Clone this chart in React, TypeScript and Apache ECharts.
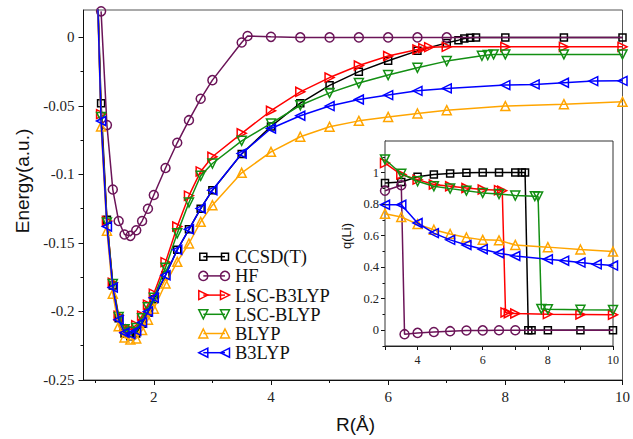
import React, { useEffect, useRef } from "react";
import * as echarts from "echarts";

// ---------- series meta ----------
const seriesNames = ["CCSD(T)", "HF", "LSC-B3LYP", "LSC-BLYP", "BLYP", "B3LYP"];
const seriesColors = ["#000000", "#6b1458", "#ff0000", "#138f13", "#ffa500", "#0000ff"];
const seriesSymbols = ["rect", "circle", "triangle", "triangle", "triangle", "triangle"];
// triangle directions: right, down, up, left
const symbolRotations = [0, 0, -90, 180, 0, 90];

// ---------- main panel: Energy (a.u.) vs R (Å) ----------
const ccsdR = [1.0, 1.1, 1.2, 1.3, 1.4, 1.5, 1.6, 1.7, 1.8, 1.9, 2.0, 2.2, 2.4, 2.6, 2.8, 3.0, 3.5, 4.0, 4.5, 5.0, 5.5, 6.0, 6.5, 7.0, 7.2, 7.3, 7.4, 7.5, 8, 9, 10];
const ccsdE = [0.09, -0.048, -0.133, -0.181, -0.205, -0.216, -0.218, -0.216, -0.209, -0.201, -0.191, -0.1735, -0.155, -0.14, -0.125, -0.1115, -0.085, -0.065, -0.048, -0.035, -0.025, -0.017, -0.0098, -0.004, -0.002, -0.0008, -0.0003, 0, 0, 0, 0];

const hfR = [1.1, 1.2, 1.3, 1.4, 1.5, 1.6, 1.7, 1.8, 1.9, 2.0, 2.2, 2.4, 2.6, 2.8, 3.0, 3.5, 3.6, 4.0, 4.5, 5.0, 5.5, 6.0, 6.5, 7.0, 8, 9, 10];
const hfE = [0.019, -0.064, -0.111, -0.134, -0.1438, -0.1448, -0.1407, -0.134, -0.125, -0.115, -0.0953, -0.0769, -0.0604, -0.0448, -0.0312, -0.0037, 0.001, 0.0004, 0, 0, 0, 0, 0, 0, 0, 0, 0];

const lscB3R = [1.0, 1.1, 1.2, 1.3, 1.4, 1.5, 1.6, 1.7, 1.8, 1.9, 2.0, 2.2, 2.4, 2.6, 2.8, 3.0, 3.5, 4.0, 4.5, 5.0, 5.5, 6.0, 6.5, 6.6, 6.7, 7.0, 8, 9, 10];
const lscB3E = [0.09, -0.056, -0.134, -0.179, -0.203, -0.212, -0.213, -0.21, -0.203, -0.195, -0.187, -0.164, -0.138, -0.1155, -0.0978, -0.0871, -0.07, -0.0535, -0.0397, -0.0293, -0.0205, -0.0136, -0.0088, -0.0078, -0.0071, -0.0069, -0.0069, -0.0069, -0.0069];

const lscBR = [1.0, 1.1, 1.2, 1.3, 1.4, 1.5, 1.6, 1.7, 1.8, 1.9, 2.0, 2.2, 2.4, 2.6, 2.8, 3.0, 3.5, 4.0, 4.5, 5.0, 5.5, 6.0, 6.5, 7.0, 7.6, 7.7, 7.8, 8, 9, 10];
const lscBE = [0.09, -0.058, -0.135, -0.18, -0.204, -0.213, -0.215, -0.212, -0.205, -0.197, -0.19, -0.168, -0.143, -0.1205, -0.101, -0.092, -0.0755, -0.0628, -0.0495, -0.0405, -0.0333, -0.0275, -0.0222, -0.0173, -0.0134, -0.0129, -0.0124, -0.0124, -0.0124, -0.0124];

const blypR = [1.0, 1.1, 1.2, 1.3, 1.4, 1.5, 1.6, 1.7, 1.8, 1.9, 2.0, 2.2, 2.4, 2.6, 2.8, 3.0, 3.5, 4.0, 4.5, 5.0, 5.5, 6.0, 6.5, 7.0, 8, 9, 10];
const blypE = [0.09, -0.065, -0.141, -0.187, -0.2107, -0.219, -0.2204, -0.2197, -0.2136, -0.206, -0.198, -0.1796, -0.1638, -0.1504, -0.1346, -0.1224, -0.0988, -0.0835, -0.0725, -0.0652, -0.0609, -0.058, -0.0555, -0.0531, -0.0501, -0.0487, -0.047];

const b3lypR = [1.0, 1.1, 1.2, 1.3, 1.4, 1.5, 1.6, 1.7, 1.8, 1.9, 2.0, 2.2, 2.4, 2.6, 2.8, 3.0, 3.5, 4.0, 4.5, 5.0, 5.5, 6.0, 6.5, 7.0, 8, 8.5, 9, 9.5, 10];
const b3lypE = [0.09, -0.061, -0.138, -0.1825, -0.206, -0.2155, -0.2165, -0.214, -0.208, -0.2, -0.19, -0.1735, -0.155, -0.14, -0.1248, -0.1115, -0.0847, -0.0665, -0.0572, -0.0501, -0.0453, -0.0421, -0.039, -0.0372, -0.0348, -0.0343, -0.0331, -0.0319, -0.0317];

// ---------- inset: q(Li) vs R ----------
const ccsdQR = [3, 3.5, 4, 4.5, 5, 5.5, 6, 6.5, 7, 7.2, 7.3, 7.4, 7.5, 8, 9, 10];
const ccsdQ = [0.934, 0.94, 0.973, 0.987, 0.994, 0.998, 1.0, 1.0, 1.0, 1.0, 1.0, 0, 0, 0, 0, 0];

const hfQR = [3, 3.5, 3.6, 4, 4.5, 5, 5.5, 6, 6.5, 7, 8, 9, 10];
const hfQ = [0.885, 0.919, -0.025, -0.017, -0.011, -0.006, -0.002, -0.001, 0, 0, 0, 0, 0];

const lscB3QR = [3, 3.5, 4, 4.5, 5, 5.5, 6, 6.5, 6.6, 6.7, 6.8, 7, 8, 9, 10];
const lscB3Q = [1.06, 0.987, 0.955, 0.924, 0.913, 0.902, 0.892, 0.888, 0.885, 0.113, 0.108, 0.106, 0.102, 0.1, 0.098];

const lscBQR = [3, 3.5, 4, 4.5, 5, 5.5, 6, 6.5, 7, 7.6, 7.7, 7.8, 8, 9, 10];
const lscBQ = [1.083, 0.992, 0.945, 0.913, 0.898, 0.885, 0.871, 0.864, 0.854, 0.85, 0.848, 0.135, 0.133, 0.13, 0.128];

const blypQR = [3, 3.5, 4, 4.5, 5, 5.5, 6, 6.5, 7, 8, 9, 10];
const blypQ = [0.739, 0.718, 0.673, 0.637, 0.61, 0.588, 0.573, 0.57, 0.541, 0.527, 0.512, 0.499];

const b3lypQR = [3, 3.5, 4, 4.5, 5, 5.5, 6, 6.5, 7, 8, 8.5, 9, 9.5, 10];
const b3lypQ = [0.796, 0.796, 0.68, 0.616, 0.573, 0.541, 0.514, 0.488, 0.471, 0.45, 0.441, 0.429, 0.418, 0.41];

// ---------- ticks ----------
const mainXTicks = [2, 4, 6, 8, 10];
const mainXMinor = [1, 3, 5, 7, 9];
const mainYTicks = [-0.25, -0.2, -0.15, -0.1, -0.05, 0];
const mainYMinor = [-0.225, -0.175, -0.125, -0.075, -0.025];
const insetXTicks = [3, 4, 5, 6, 7, 8, 9, 10];
const insetXLabels = [4, 6, 8, 10];
const insetYTicks = [0, 0.2, 0.4, 0.6, 0.8, 1];
const insetYMinor = [-0.1, 0.1, 0.3, 0.5, 0.7, 0.9, 1.1];

const mainX = [ccsdR, hfR, lscB3R, lscBR, blypR, b3lypR];
const mainY = [ccsdE, hfE, lscB3E, lscBE, blypE, b3lypE];
const insetX = [ccsdQR, hfQR, lscB3QR, lscBQR, blypQR, b3lypQR];
const insetY = [ccsdQ, hfQ, lscB3Q, lscBQ, blypQ, b3lypQ];

const HF_MARKER_LIMIT = 7;

function symSize(i: number) {
  return i === 0 ? 7 : 9;
}

function buildData(i: number, xs: number[], ys: number[]) {
  return xs.map((x, k) => {
    if (i === 1 && x > HF_MARKER_LIMIT) return { value: [x, ys[k]], symbol: "none" };
    return { value: [x, ys[k]] };
  });
}

function makeSeries(i: number, xs: number[], ys: number[], xi: number, yi: number) {
  const c = seriesColors[i];
  return {
    type: "line",
    name: seriesNames[i] + (xi === 0 ? "" : " q"),
    xAxisIndex: xi,
    yAxisIndex: yi,
    data: buildData(i, xs, ys),
    symbol: seriesSymbols[i],
    symbolSize: symSize(i),
    symbolRotate: symbolRotations[i],
    showAllSymbol: true,
    clip: true,
    silent: true,
    lineStyle: { color: c, width: 1.5 },
    itemStyle: { color: "rgba(0,0,0,0)", borderColor: c, borderWidth: 1.5 },
    emphasis: { disabled: true },
    z: 2 + i,
  };
}

function legendMarker(i: number, cx: number, cy: number) {
  const c = seriesColors[i];
  const st = { fill: "none", stroke: c, lineWidth: 1.5 };
  if (i === 0) return { type: "rect", shape: { x: cx - 3.5, y: cy - 3.5, width: 7, height: 7 }, style: st };
  if (i === 1) return { type: "circle", shape: { cx, cy, r: 4.5 }, style: st };
  const h = 4.5;
  let pts: number[][];
  if (i === 2) pts = [[cx - h, cy - h], [cx + h, cy], [cx - h, cy + h]];
  else if (i === 3) pts = [[cx - h, cy - h], [cx + h, cy - h], [cx, cy + h]];
  else if (i === 4) pts = [[cx, cy - h], [cx + h, cy + h], [cx - h, cy + h]];
  else pts = [[cx + h, cy - h], [cx - h, cy], [cx + h, cy + h]];
  return { type: "polygon", shape: { points: pts }, style: st };
}

const serif = "Liberation Serif";
const sans = "Liberation Sans";

export default function App() {
  const ref = useRef<HTMLDivElement>(null);
  useEffect(() => {
    if (!ref.current) return;
    const chart = echarts.init(ref.current, undefined, { renderer: "svg" });

    const series: any[] = [];
    for (let i = 0; i < 6; i++) series.push(makeSeries(i, mainX[i], mainY[i], 0, 0));
    for (let i = 0; i < 6; i++) series.push(makeSeries(i, insetX[i], insetY[i], 2, 2));

    const legendEls: any[] = [];
    seriesNames.forEach((n, i) => {
      const cy = 256.7 + i * 19.2;
      legendEls.push({
        type: "line",
        shape: { x1: 203.3, y1: cy, x2: 225, y2: cy },
        style: { stroke: seriesColors[i], lineWidth: 1.5 },
      });
      legendEls.push(legendMarker(i, 203.3, cy));
      legendEls.push(legendMarker(i, 225, cy));
      legendEls.push({
        type: "text",
        x: 235,
        y: cy + 0.5,
        style: { text: n, fill: "#111", fontFamily: serif, fontSize: 18.5, verticalAlign: "middle", align: "left" },
      });
    });

    const baseAxis = {
      splitLine: { show: false },
      axisLine: { show: true, onZero: false, lineStyle: { color: "#111", width: 1 } },
    };

    chart.setOption({
      animation: false,
      backgroundColor: "#fff",
      grid: [
        { left: 83.5, right: 6.4, top: 10, bottom: 59, show: true, borderColor: "#555", borderWidth: 1, backgroundColor: "transparent" },
        { left: 385, top: 141, width: 228, height: 205, show: true, borderColor: "#333", borderWidth: 1, backgroundColor: "#fff", z: 1 },
      ],
      xAxis: [
        {
          ...baseAxis,
          type: "value", gridIndex: 0, min: 0.8, max: 10, position: "bottom",
          axisTick: { show: true, length: 5, customValues: mainXTicks, lineStyle: { color: "#111" } },
          axisLabel: { show: true, customValues: mainXTicks, margin: 9, fontFamily: serif, fontSize: 15, color: "#222" },
        },
        {
          type: "value", gridIndex: 0, min: 0.8, max: 10, position: "bottom",
          splitLine: { show: false }, axisLine: { show: false, onZero: false },
          axisTick: { show: true, length: 3, customValues: mainXMinor, lineStyle: { color: "#111" } },
          axisLabel: { show: false },
        },
        {
          ...baseAxis,
          type: "value", gridIndex: 1, min: 3, max: 10, position: "bottom",
          axisTick: { show: true, length: 4, customValues: insetXTicks, lineStyle: { color: "#111" } },
          axisLabel: { show: true, customValues: insetXLabels, margin: 8, fontFamily: serif, fontSize: 12, color: "#222" },
        },
      ],
      yAxis: [
        {
          ...baseAxis,
          type: "value", gridIndex: 0, min: -0.25, max: 0.02, position: "left",
          axisTick: { show: true, length: 5, customValues: mainYTicks, lineStyle: { color: "#111" } },
          axisLabel: {
            show: true, customValues: mainYTicks, margin: 9, fontFamily: serif, fontSize: 15, color: "#222",
            formatter: (v: number) => (Math.abs(v) < 1e-9 ? "0" : String(+v.toFixed(3))),
          },
        },
        {
          type: "value", gridIndex: 0, min: -0.25, max: 0.02, position: "left",
          splitLine: { show: false }, axisLine: { show: false, onZero: false },
          axisTick: { show: true, length: 3, customValues: mainYMinor, lineStyle: { color: "#111" } },
          axisLabel: { show: false },
        },
        {
          ...baseAxis,
          type: "value", gridIndex: 1, min: -0.1, max: 1.2, position: "left",
          axisTick: { show: true, length: 4, customValues: insetYTicks, lineStyle: { color: "#111" } },
          axisLabel: {
            show: true, customValues: insetYTicks, margin: 6, fontFamily: serif, fontSize: 12.5, color: "#222",
            formatter: (v: number) => (Math.abs(v) < 1e-9 ? "0" : String(+v.toFixed(2))),
          },
        },
        {
          type: "value", gridIndex: 1, min: -0.1, max: 1.2, position: "left",
          splitLine: { show: false }, axisLine: { show: false, onZero: false },
          axisTick: { show: true, length: 2.5, customValues: insetYMinor, lineStyle: { color: "#111" } },
          axisLabel: { show: false },
        },
      ],
      series,
      graphic: [
        {
          type: "text", x: 22, y: 181, rotation: Math.PI / 2,
          style: { text: "Energy(a.u.)", fontFamily: sans, fontSize: 19, fill: "#111", align: "center", verticalAlign: "middle" },
        },
        {
          type: "text", x: 355.5, y: 424,
          style: { text: "R(Å)", fontFamily: sans, fontSize: 19, fill: "#111", align: "center", verticalAlign: "middle" },
        },
        {
          type: "text", x: 346, y: 236, rotation: Math.PI / 2,
          style: { text: "q(Li)", fontFamily: sans, fontSize: 13, fill: "#111", align: "center", verticalAlign: "middle" },
        },
        ...legendEls,
      ],
    });
    return () => chart.dispose();
  }, []);
  return <div ref={ref} style={{ position: "fixed", left: 0, top: 0, width: 633, height: 439 }} />;
}
